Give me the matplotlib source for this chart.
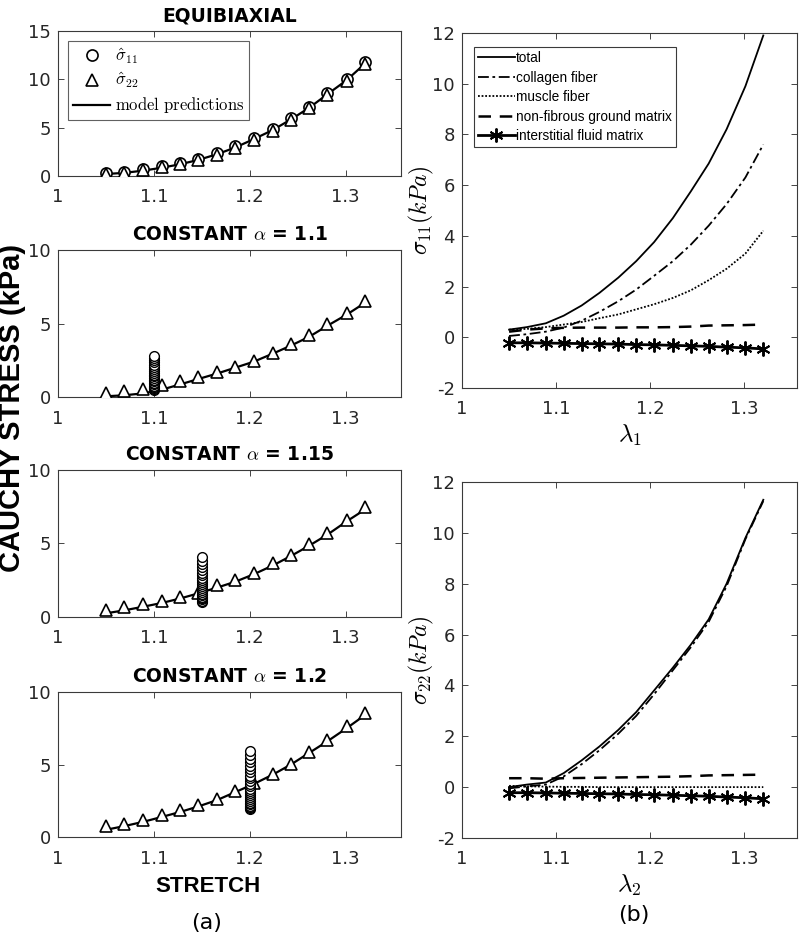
#!/usr/bin/env python
"""Biaxial stress fits (a) and stress decomposition by constituent (b)."""
import numpy as np
import matplotlib
matplotlib.use("Agg")
import matplotlib.pyplot as plt

plt.rcParams["mathtext.fontset"] = "cm"
plt.rcParams["font.family"] = "DejaVu Sans"

# stretch values of the loading protocol
STRETCH = [1.05, 1.069, 1.089, 1.108, 1.127, 1.146, 1.166, 1.185,
           1.204, 1.224, 1.243, 1.262, 1.281, 1.301, 1.32]

# (a) equibiaxial
eq_s11 = [0.3, 0.45, 0.7, 1.0, 1.35, 1.75, 2.35, 3.05, 3.9, 4.85, 5.95, 7.15, 8.55, 10.0, 11.75]
eq_s22 = [0.2, 0.35, 0.6, 0.9, 1.2, 1.6, 2.2, 2.9, 3.75, 4.7, 5.8, 7.0, 8.4, 9.85, 11.6]
eq_model = [0.2, 0.32, 0.55, 0.85, 1.2, 1.65, 2.25, 2.95, 3.8, 4.75, 5.85, 7.05, 8.45, 9.9, 11.6]

# (a) constant-alpha tests: sigma22 vs stretch, sigma11 stacked at alpha
ALPHA = [1.1, 1.15, 1.2]
s22_a = [
    [0.27, 0.4, 0.57, 0.8, 1.07, 1.36, 1.7, 2.05, 2.45, 3.0, 3.6, 4.2, 4.95, 5.7, 6.55],
    [0.5, 0.68, 0.9, 1.1, 1.36, 1.6, 2.16, 2.5, 3.0, 3.64, 4.25, 4.95, 5.7, 6.6, 7.45],
    [0.74, 0.92, 1.2, 1.5, 1.84, 2.18, 2.64, 3.2, 3.7, 4.37, 5.06, 5.86, 6.67, 7.63, 8.55],
]
model_a = [
    [0.05, 0.12, 0.25, 0.5, 0.85, 1.22, 1.6, 2.0, 2.4, 2.95, 3.5, 4.1, 4.85, 5.6, 6.4],
    [0.25, 0.45, 0.7, 0.95, 1.25, 1.6, 2.0, 2.4, 2.9, 3.5, 4.15, 4.85, 5.6, 6.5, 7.3],
    [0.5, 0.75, 1.05, 1.38, 1.72, 2.1, 2.55, 3.1, 3.65, 4.3, 5.0, 5.8, 6.6, 7.5, 8.4],
]
s11_a = [
    [0.45, 0.52, 0.6, 0.68, 0.77, 0.86, 0.96, 1.06, 1.17, 1.28, 1.4, 1.52, 1.65,
     1.78, 1.92, 2.06, 2.2, 2.35, 2.5, 2.65, 2.8],
    [1.05, 1.12, 1.2, 1.29, 1.38, 1.48, 1.59, 1.7, 1.82, 1.95, 2.08, 2.22, 2.37,
     2.52, 2.68, 2.85, 3.02, 3.2, 3.4, 3.6, 3.82, 4.1],
    [1.9, 1.98, 2.07, 2.17, 2.27, 2.38, 2.5, 2.62, 2.75, 2.89, 3.03, 3.18, 3.34,
     3.5, 3.67, 3.85, 4.04, 4.24, 4.45, 4.67, 4.9, 5.14, 5.39, 5.65, 5.9],
]

# (b) constituent stresses
top = {
    "total": [0.3, 0.4, 0.55, 0.85, 1.25, 1.75, 2.35, 3.0, 3.75, 4.7, 5.75, 6.85, 8.2, 9.9, 11.9],
    "collagen": [0.05, 0.12, 0.22, 0.38, 0.65, 1.0, 1.42, 1.88, 2.42, 3.0, 3.65, 4.4, 5.25, 6.3, 7.6],
    "muscle": [0.3, 0.33, 0.4, 0.5, 0.6, 0.75, 0.9, 1.1, 1.3, 1.55, 1.85, 2.25, 2.7, 3.3, 4.2],
    "ground": [0.22, 0.3, 0.35, 0.37, 0.38, 0.38, 0.38, 0.39, 0.39, 0.4, 0.42, 0.46, 0.47, 0.48, 0.5],
    "fluid": [-0.22, -0.22, -0.23, -0.24, -0.25, -0.26, -0.27, -0.29, -0.3, -0.32, -0.34,
              -0.36, -0.39, -0.42, -0.46],
}
bot = {
    "total": [0.0, 0.1, 0.18, 0.55, 1.05, 1.6, 2.25, 2.95, 3.8, 4.7, 5.6, 6.6, 8.0, 9.8, 11.3],
    "collagen": [-0.05, 0.03, 0.1, 0.42, 0.9, 1.45, 2.1, 2.8, 3.65, 4.6, 5.5, 6.5, 7.9, 9.75, 11.25],
    "muscle": [0.05, 0.03, 0.02, 0.01, 0.01, 0.0, 0.0, 0.0, 0.0, 0.0, 0.0, 0.0, 0.0, 0.0, 0.0],
    "ground": [0.35, 0.35, 0.33, 0.35, 0.36, 0.37, 0.38, 0.39, 0.4, 0.41, 0.43, 0.46, 0.47, 0.48, 0.49],
    "fluid": [-0.22, -0.22, -0.23, -0.24, -0.25, -0.26, -0.27, -0.29, -0.3, -0.32, -0.34,
              -0.36, -0.39, -0.42, -0.46],
}
LABELS = {"total": "total", "collagen": "collagen fiber", "muscle": "muscle fiber",
          "ground": "non-fibrous ground matrix", "fluid": "interstitial fluid matrix"}

TICK_CLR = "#262626"


def style(ax, xlim, ylim, yticks):
    ax.set_xlim(*xlim); ax.set_ylim(*ylim)
    ax.set_xticks([1, 1.1, 1.2, 1.3]); ax.set_xticklabels(["1", "1.1", "1.2", "1.3"])
    ax.set_yticks(yticks); ax.set_yticklabels([str(t) for t in yticks])
    ax.tick_params(direction="in", top=True, right=True, labelsize=13,
                   colors=TICK_CLR, length=4, width=0.6)
    ax.tick_params(axis="x", pad=9); ax.tick_params(axis="y", pad=5)
    for s in ax.spines.values():
        s.set_color("#3a3a3a"); s.set_linewidth(0.8)


fig = plt.figure(figsize=(8, 9.46), dpi=100)
X0L, WL = 0.0725, 0.429
left_pos = [(0.8140, 0.1533), (0.5803, 0.1554), (0.3478, 0.1554), (0.1152, 0.1533)]
titles = ["EQUIBIAXIAL", r"CONSTANT $\alpha$ = 1.1", r"CONSTANT $\alpha$ = 1.15",
          r"CONSTANT $\alpha$ = 1.2"]
mk = dict(mfc="white", mec="black", mew=1.2, ls="none")

for i, (b, h) in enumerate(left_pos):
    ax = fig.add_axes([X0L, b, WL, h])
    if i == 0:
        ax.plot(STRETCH, eq_model, color="black", lw=1.6, zorder=2)
        ax.plot(STRETCH, eq_s11, marker="o", ms=8, **mk, zorder=3)
        ax.plot(STRETCH, eq_s22, marker="^", ms=8, **mk, zorder=3)
        style(ax, (1, 1.358), (0, 15), [0, 5, 10, 15])
        hc, = ax.plot([], [], marker="o", ms=8, **mk)
        ht, = ax.plot([], [], marker="^", ms=8, **mk)
        hl, = ax.plot([], [], color="black", lw=1.6)
        leg = ax.legend([hc, ht, hl], [r"$\hat{\sigma}_{11}$", r"$\hat{\sigma}_{22}$",
                                      r"$\mathrm{model\ predictions}$"],
                        loc="upper left", fontsize=12, handlelength=2.2, handletextpad=0.3,
                        borderpad=0.3, labelspacing=0.3, fancybox=False,
                        bbox_to_anchor=(0.03, 0.93), borderaxespad=0)
        leg.get_frame().set_edgecolor("#3a3a3a"); leg.get_frame().set_linewidth(0.8)
    else:
        k = i - 1
        a = ALPHA[k]
        ax.plot(STRETCH, model_a[k], color="black", lw=1.6, zorder=2)
        ax.plot([a, a], [s11_a[k][0], s11_a[k][-1]], color="black", lw=1.2, zorder=2)
        ax.plot(STRETCH, s22_a[k], marker="^", ms=9, **mk, zorder=3)
        ax.plot([a] * len(s11_a[k]), s11_a[k], marker="o", ms=7, mfc="white",
                mec="black", mew=1.0, ls="none", zorder=4)
        style(ax, (1, 1.358), (0, 10), [0, 5, 10])
    ax.set_title(titles[i], fontsize=13.5, fontweight="bold", pad=7)

fig.text(208 / 800, 1 - 886 / 946, "STRETCH", ha="center", va="center", fontsize=16,
         fontweight="bold", family="Liberation Sans")
fig.text(0.0155, 1 - 408 / 946, "CAUCHY STRESS (kPa)", rotation=90, ha="center",
         va="center", fontsize=21, fontweight="bold", family="Liberation Sans")
fig.text(207 / 800, 1 - 923 / 946, "(a)", ha="center", va="center", fontsize=16)

# (b) constituents
X0R, WR = 0.5775, 0.419
right_pos = [(0.5899, 0.3753), (0.1142, 0.3763)]
styles = {"total": dict(ls="-", lw=1.3),
          "collagen": dict(ls=(0, (6, 2, 1.5, 2)), lw=1.3),
          "muscle": dict(ls=(0, (1, 1)), lw=1.3),
          "ground": dict(ls=(0, (5, 3.5)), lw=1.8),
          "fluid": dict(ls="-", lw=2.0, marker=(6, 2, 0), ms=10, mew=1.4)}
for j, (data, sub) in enumerate([(top, "11"), (bot, "22")]):
    ax = fig.add_axes([X0R, right_pos[j][0], WR, right_pos[j][1]])
    for key in ["total", "collagen", "muscle", "ground", "fluid"]:
        ax.plot(STRETCH, data[key], color="black", label=LABELS[key], **styles[key])
    style(ax, (1, 1.356), (-2, 12), list(range(-2, 13, 2)))
    ax.set_ylabel(r"$\sigma_{%s}(kPa)$" % sub, fontsize=17, labelpad=-3)
    ax.set_xlabel(r"$\lambda_{%s}$" % sub[0], fontsize=18, labelpad=3)
    if j == 0:
        leg = ax.legend(loc="upper left", bbox_to_anchor=(0.035, 0.96), borderaxespad=0,
                        prop=dict(family="Liberation Sans", size=9.8), handlelength=2.7,
                        handletextpad=0.1, borderpad=0.3, labelspacing=0.4,
                        fancybox=False, framealpha=1)
        leg.get_frame().set_edgecolor("#3a3a3a"); leg.get_frame().set_linewidth(0.8)
fig.text(634 / 800, 1 - 915 / 946, "(b)", ha="center", va="center", fontsize=16)

fig.savefig("out.png", dpi=100)
